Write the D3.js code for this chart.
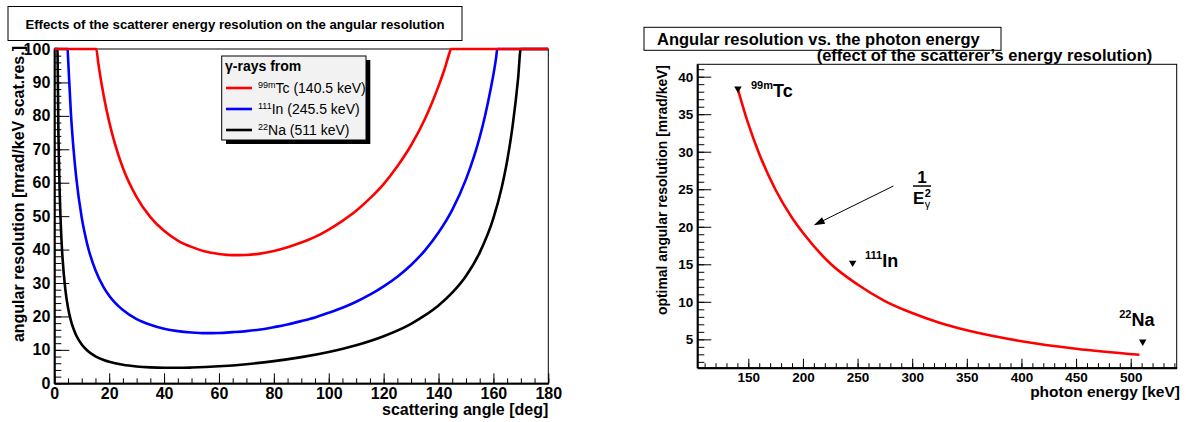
<!DOCTYPE html>
<html>
<head>
<meta charset="utf-8">
<script src="https://cdn.jsdelivr.net/npm/d3@7"></script>
<style>
body { margin: 0; background: #fff; }
text { font-family: "Liberation Sans", Arial, Helvetica, sans-serif; font-weight: bold; }
text.plain { font-weight: normal; }
</style>
</head>
<body>
<div id="chart"></div>
<script>
// ---- left pad: angular resolution vs scattering angle (clipped at 100)
var tc_angle = [0, 15.3, 16, 18, 20, 22, 25, 30, 35, 40, 45, 50, 55, 60, 65, 70, 75, 80, 85, 90, 95, 100, 105, 110, 115, 120, 125, 130, 135, 138, 140, 142, 144, 144.5, 180];
var tc_res   = [100, 100, 95.9, 86.0, 78.2, 71.9, 64.4, 55.7, 49.7, 45.6, 42.7, 40.8, 39.4, 38.7, 38.35, 38.4, 38.8, 39.6, 40.7, 42.1, 43.8, 46.0, 48.6, 51.6, 55.3, 59.6, 64.9, 71.2, 79.0, 84.7, 88.9, 93.5, 98.8, 100, 100];

var in_angle = [0, 4.85, 5, 6, 7, 8, 10, 12, 15, 18, 20, 25, 30, 35, 40, 45, 50, 55, 60, 65, 70, 75, 80, 85, 90, 95, 100, 105, 110, 115, 120, 125, 130, 135, 140, 145, 150, 153, 155, 157, 159, 161, 161.4, 180];
var in_res   = [100, 100, 97.6, 81.5, 70.1, 61.5, 49.5, 41.6, 33.8, 28.7, 26.2, 21.9, 19.2, 17.5, 16.3, 15.6, 15.2, 15.0, 15.06, 15.3, 15.6, 16.1, 16.8, 17.6, 18.6, 19.7, 21.1, 22.6, 24.4, 26.5, 29.0, 31.9, 35.4, 39.7, 45.1, 51.9, 61.0, 68.0, 73.6, 80.2, 88.0, 97.5, 100, 100];

var na_angle = [0, 1.12, 1.5, 2, 2.5, 3, 4, 5, 6, 7, 8, 10, 12, 15, 18, 20, 25, 30, 35, 40, 45, 50, 55, 60, 70, 80, 90, 100, 110, 120, 130, 135, 140, 145, 150, 155, 160, 163, 165, 167, 169, 169.95, 180];
var na_res   = [100, 100, 74.8, 56.1, 44.9, 37.5, 28.2, 22.6, 18.9, 16.3, 14.3, 11.6, 9.83, 8.08, 6.97, 6.43, 5.54, 5.04, 4.76, 4.64, 4.63, 4.71, 4.86, 5.08, 5.72, 6.63, 7.83, 9.39, 11.4, 14.1, 17.8, 20.3, 23.3, 27.1, 32.1, 39.1, 49.4, 58.5, 66.5, 77.0, 91.2, 100, 100];

var leg_sup  = ["99m", "111", "22"];
var leg_name = ["Tc (140.5 keV)", "In (245.5 keV)", "Na (511 keV)"];
var leg_col  = ["#ff0000", "#0000ff", "#000000"];

var xl_ticks = [0, 20, 40, 60, 80, 100, 120, 140, 160, 180];
var yl_ticks = [0, 10, 20, 30, 40, 50, 60, 70, 80, 90, 100];

// ---- right pad: optimal angular resolution vs photon energy
var en_energy = [140.5, 150, 160, 175, 190, 200, 225, 250, 275, 300, 325, 350, 400, 450, 508];
var en_res    = [38.3, 33.7, 29.7, 24.9, 21.2, 19.2, 15.1, 12.3, 10.1, 8.5, 7.2, 6.2, 4.75, 3.75, 2.95];

var src_sup    = ["99m", "111", "22"];
var src_elem   = ["Tc", "In", "Na"];
var src_energy = [140.5, 245.5, 511];
var src_mark   = [38.4, 15.2, 4.7];
var src_label_at = [[152.4, 37.3], [256.8, 14.7], [489.5, 6.76]];

var arrow_from = [282.7, 25.43];
var arrow_to   = [209.9, 20.2];
var frac_at    = [309.0, 25.43];

var xr_ticks = [150, 200, 250, 300, 350, 400, 450, 500];
var yr_ticks = [5, 10, 15, 20, 25, 30, 35, 40];

var w = 1186;
var h = 422;

var svg = d3.select("#chart")
    .append("svg")
    .attr("width", w)
    .attr("height", h);

function axes(x, y, xt, xminor, yt, yminor, xl, yl, fs, xpad) {
    var g = svg.append("g");
    var y0 = y.range()[0];
    var x0 = x.range()[0];
    // minor ticks first
    g.append("g")
        .attr("transform", "translate(0," + y0 + ")")
        .call(d3.axisBottom(x).tickValues(xminor).tickFormat("").tickSizeInner(-xl[1]).tickSizeOuter(0))
        .call(function (s) { s.select(".domain").remove(); });
    g.append("g")
        .attr("transform", "translate(" + x0 + ",0)")
        .call(d3.axisLeft(y).tickValues(yminor).tickFormat("").tickSizeInner(-yl[1]).tickSizeOuter(0))
        .call(function (s) { s.select(".domain").remove(); });
    g.append("g")
        .attr("transform", "translate(0," + y0 + ")")
        .call(d3.axisBottom(x).tickValues(xt).tickSizeInner(-xl[0]).tickSizeOuter(0).tickPadding(xpad));
    g.append("g")
        .attr("transform", "translate(" + x0 + ",0)")
        .call(d3.axisLeft(y).tickValues(yt).tickSizeInner(-yl[0]).tickSizeOuter(0).tickPadding(4));
    g.selectAll("text").attr("font-size", fs).attr("font-family", null).attr("fill", "#000");
    g.selectAll(".tick line").attr("stroke", "#000");
    g.selectAll(".domain").attr("stroke", "#000").attr("stroke-width", 2);
    svg.append("rect")
        .attr("x", x.range()[0]).attr("y", y.range()[1])
        .attr("width", x.range()[1] - x.range()[0])
        .attr("height", y.range()[0] - y.range()[1])
        .attr("fill", "none").attr("stroke", "#000").attr("stroke-width", 1);
}

// ================= left pad =================
var xl = d3.scaleLinear().domain([0, 180]).range([54.3, 548.3]);
var yl = d3.scaleLinear().domain([0, 100]).range([383.3, 49]);

svg.append("rect").attr("x", 8).attr("y", 6.5).attr("width", 454).attr("height", 34)
    .attr("fill", "#fff").attr("stroke", "#000").attr("stroke-width", 1);
svg.append("text").attr("x", 235).attr("y", 29).attr("text-anchor", "middle")
    .attr("font-size", 13.2)
    .text("Effects of the scatterer energy resolution on the angular resolution");

axes(xl, yl, xl_ticks, d3.range(0, 181, 5), yl_ticks, d3.range(0, 101, 2), [10, 5], [15, 7], 16, 4);

svg.append("clipPath").attr("id", "clipl")
    .append("rect").attr("x", 54.3).attr("y", 47).attr("width", 494).attr("height", 337);

var series = [
    {ang: na_angle, res: na_res, col: leg_col[2]},
    {ang: in_angle, res: in_res, col: leg_col[1]},
    {ang: tc_angle, res: tc_res, col: leg_col[0]}
];

var linel = d3.line()
    .x(function (d) { return xl(d[0]); })
    .y(function (d) { return yl(d[1]); })
    .curve(d3.curveMonotoneX);

svg.append("g").attr("clip-path", "url(#clipl)")
    .selectAll("path")
    .data(series)
    .enter()
    .append("path")
    .attr("d", function (s) { return linel(d3.zip(s.ang, s.res)); })
    .attr("fill", "none")
    .attr("stroke", function (s) { return s.col; })
    .attr("stroke-width", 2.6);

svg.append("text").attr("x", 548.3).attr("y", 415).attr("text-anchor", "end")
    .attr("font-size", 16).text("scattering angle [deg]");
svg.append("text").attr("transform", "translate(24,46) rotate(-90)").attr("text-anchor", "end")
    .attr("font-size", 16).text("angular resolution [mrad/keV scat.res.]");

// legend
var lg = svg.append("g");
lg.append("rect").attr("x", 226).attr("y", 60).attr("width", 144.3).attr("height", 84).attr("fill", "#000");
lg.append("rect").attr("x", 221.7).attr("y", 56).attr("width", 144.3).attr("height", 84)
    .attr("fill", "#f2f2f2").attr("stroke", "#000").attr("stroke-width", 1);
lg.append("text").attr("x", 225).attr("y", 71).attr("font-size", 14).text("\u03b3-rays from");
var ent = lg.selectAll("g.ent")
    .data(leg_name)
    .enter()
    .append("g")
    .attr("class", "ent")
    .attr("transform", function (d, i) { return "translate(0," + (88 + i * 21) + ")"; });
ent.append("line").attr("x1", 226).attr("x2", 252).attr("y1", 0).attr("y2", 0)
    .attr("stroke", function (d, i) { return leg_col[i]; }).attr("stroke-width", 2.6);
var et = ent.append("text").attr("class", "plain").attr("x", 258).attr("y", 5);
et.append("tspan").attr("font-size", 9).attr("dy", -5).text(function (d, i) { return leg_sup[i]; });
et.append("tspan").attr("font-size", 14).attr("dy", 5).text(function (d) { return d; });

// ================= right pad =================
var xr = d3.scaleLinear().domain([103.3, 542.1]).range([697.3, 1176.7]);
var yr = d3.scaleLinear().domain([1.22, 41.65]).range([367.7, 64.3]);

svg.append("rect").attr("x", 644).attr("y", 27.3).attr("width", 357).attr("height", 23)
    .attr("fill", "#fff").attr("stroke", "#000").attr("stroke-width", 1);
svg.append("text").attr("x", 657).attr("y", 44.5).attr("font-size", 16.5)
    .text("Angular resolution vs. the photon energy");
svg.append("text").attr("x", 816.7).attr("y", 61).attr("font-size", 16.5)
    .text("(effect of the scatterer\u2019s energy resolution)");

axes(xr, yr, xr_ticks, d3.range(110, 541, 10), yr_ticks, d3.range(2, 42, 1), [9, 4.5], [14, 7], 13.5, 5);

svg.append("clipPath").attr("id", "clipr")
    .append("rect").attr("x", 697.3).attr("y", 64.3).attr("width", 479.4).attr("height", 303.4);

var liner = d3.line()
    .x(function (d) { return xr(d[0]); })
    .y(function (d) { return yr(d[1]); })
    .curve(d3.curveMonotoneX);

svg.append("path").attr("clip-path", "url(#clipr)")
    .attr("d", liner(d3.zip(en_energy, en_res)))
    .attr("fill", "none").attr("stroke", "#ff0000").attr("stroke-width", 2.6);

var tri = d3.symbol().type(d3.symbolTriangle).size(24);
svg.selectAll("path.mark")
    .data(src_energy)
    .enter()
    .append("path")
    .attr("class", "mark")
    .attr("d", tri)
    .attr("transform", function (d, i) { return "translate(" + xr(d) + "," + yr(src_mark[i]) + ") rotate(180)"; })
    .attr("fill", "#000");

var st = svg.selectAll("text.src")
    .data(src_elem)
    .enter()
    .append("text")
    .attr("class", "src")
    .attr("x", function (d, i) { return xr(src_label_at[i][0]); })
    .attr("y", function (d, i) { return yr(src_label_at[i][1]); });
st.append("tspan").attr("font-size", 11).attr("dy", -8).text(function (d, i) { return src_sup[i]; });
st.append("tspan").attr("font-size", 18).attr("dy", 8).text(function (d) { return d; });

// arrow pointing at the curve
var ax0 = xr(arrow_from[0]), ay0 = yr(arrow_from[1]);
var ax1 = xr(arrow_to[0]), ay1 = yr(arrow_to[1]);
var ang = Math.atan2(ay1 - ay0, ax1 - ax0);
svg.append("line").attr("x1", ax0).attr("y1", ay0)
    .attr("x2", ax1 - 8 * Math.cos(ang)).attr("y2", ay1 - 8 * Math.sin(ang))
    .attr("stroke", "#000").attr("stroke-width", 1);
svg.append("path")
    .attr("d", "M0,0 L-11,-3.6 L-11,3.6 Z")
    .attr("transform", "translate(" + ax1 + "," + ay1 + ") rotate(" + (ang * 180 / Math.PI) + ")")
    .attr("fill", "#000");

var fx = xr(frac_at[0]), fy = yr(frac_at[1]);
svg.append("text").attr("x", fx).attr("y", fy - 3).attr("text-anchor", "middle").attr("font-size", 17).text("1");
svg.append("line").attr("x1", fx - 9).attr("x2", fx + 9).attr("y1", fy).attr("y2", fy)
    .attr("stroke", "#000").attr("stroke-width", 1.5);
svg.append("text").attr("x", fx - 9).attr("y", fy + 18).attr("font-size", 17).text("E");
svg.append("text").attr("x", fx + 2.6).attr("y", fy + 10.5).attr("font-size", 11).text("2");
svg.append("text").attr("class", "plain").attr("x", fx + 2.6).attr("y", fy + 22).attr("font-size", 11).text("\u03b3");

svg.append("text").attr("x", 1180).attr("y", 397).attr("text-anchor", "end")
    .attr("font-size", 15.5).text("photon energy [keV]");
svg.append("text").attr("transform", "translate(667,65) rotate(-90)").attr("text-anchor", "end")
    .attr("font-size", 13.9).text("optimal angular resolution [mrad/keV]");
</script>
</body>
</html>
